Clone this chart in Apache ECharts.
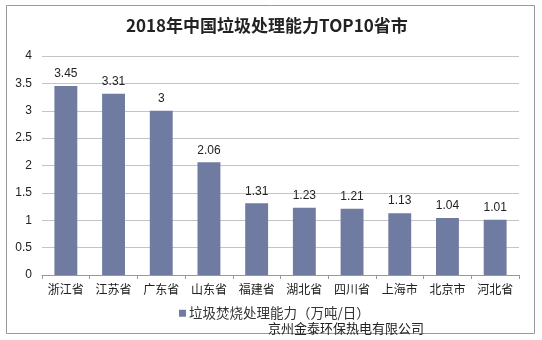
<!DOCTYPE html>
<html><head><meta charset="utf-8">
<script src="https://cdn.jsdelivr.net/npm/echarts@6/dist/echarts.min.js"></script>
<style>html,body{margin:0;padding:0;background:#fff}#c{width:542px;height:340px}</style>
</head><body><div id="c"></div>
<script>
var titleText = '2018年中国垃圾处理能力TOP10省市';
var categories = ['浙江省','江苏省','广东省','山东省','福建省','湖北省','四川省','上海市','北京市','河北省'];
var seriesName = '垃圾焚烧处理能力（万吨/日）';
var values = [3.45, 3.31, 3, 2.06, 1.31, 1.23, 1.21, 1.13, 1.04, 1.01];
var watermark = '京州金泰环保热电有限公司';

var chart = echarts.init(document.getElementById('c'), null, {renderer:'canvas'});
chart.setOption({
  animation: false,
  backgroundColor: '#fff',
  title: {
    text: titleText, left: 121, top: 12,
    textStyle: {fontFamily: 'Noto Sans CJK SC', fontWeight: 'bold', fontSize: 17, color: '#222'}
  },
  graphic: [
    {type:'rect', shape:{x:6.5,y:5.5,width:528,height:328}, style:{fill:'none', stroke:'#999', lineWidth:1}, z:-1},
    {type:'text', left: 268, top: 322, style:{text: watermark, font:'13px "Noto Sans CJK SC"', fill:'#222'}}
  ],
  grid: {left: 42, right: 23, top: 56, bottom: 65},
  legend: {
    data: [seriesName], bottom: 15, left: 174, itemWidth: 7, itemHeight: 7, itemGap: 4,
    icon: 'rect',
    textStyle: {fontFamily: 'Noto Sans CJK SC', fontSize: 13.5, color: '#333', padding:[0,0,0,-2]}
  },
  xAxis: {
    type: 'category', data: categories,
    axisLine: {lineStyle: {color: '#999'}},
    axisTick: {show: true, length: 4, lineStyle:{color:'#999'}},
    axisLabel: {fontFamily: 'Noto Sans CJK SC', fontSize: 12, color: '#222', margin: 8}
  },
  yAxis: {
    type: 'value', min: 0, max: 4, interval: 0.5,
    axisLine: {show: false}, axisTick: {show: false},
    splitLine: {lineStyle: {color: '#c4c4c4'}},
    axisLabel: {fontFamily: 'Liberation Sans', fontSize: 12, color: '#222', margin: 10}
  },
  series: [{
    name: seriesName, type: 'bar', data: values, barWidth: '48%',
    itemStyle: {color: '#707ba2'},
    label: {show: true, position: 'top', distance: 6, fontFamily: 'Liberation Sans', fontSize: 12, color: '#222'}
  }]
});
</script></body></html>
